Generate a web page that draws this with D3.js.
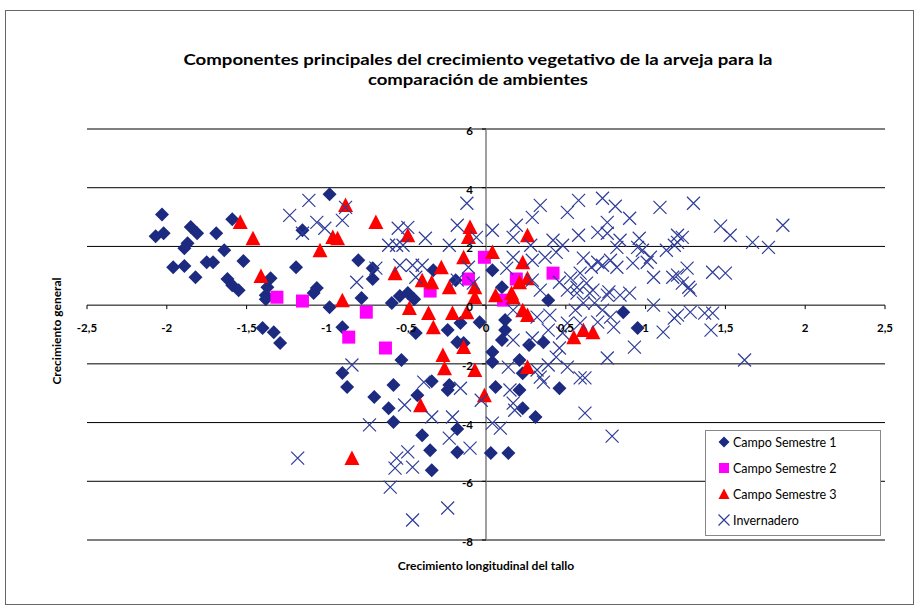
<!DOCTYPE html>
<html>
<head>
<meta charset="utf-8">
<script src="https://cdn.jsdelivr.net/npm/d3@7"></script>
<style>
  body { margin: 0; background: #fff; }
  svg { display: block; font-family: Lato, "Open Sans", sans-serif; }
</style>
</head>
<body>
<svg id="chart" width="920" height="609"></svg>
<script>
// ---- Data: principal component scores (x = longitudinal stem growth, y = general growth)
const campoSemestre1 = [
  [-2.03,3.09],[-2.07,2.35],[-2.02,2.45],[-1.85,2.66],[-1.81,2.45],[-1.87,2.11],[-1.89,1.94],
  [-1.69,2.45],[-1.59,2.93],[-1.64,1.87],[-1.96,1.29],[-1.89,1.33],[-1.82,0.95],[-1.75,1.46],
  [-1.71,1.46],[-1.52,1.50],[-1.62,0.89],[-1.59,0.68],[-1.55,0.51],[-1.35,0.92],[-1.37,0.61],
  [-1.38,0.34],[-1.19,1.29],[-1.15,2.55],[-1.38,0.20],[-1.40,-0.78],[-1.33,-0.92],[-1.29,-1.29],
  [-0.98,3.78],[-0.80,1.53],[-0.71,1.26],[-0.71,0.89],[-1.06,0.58],[-1.08,0.41],[-0.59,0.07],
  [-0.54,0.31],[-0.49,0.41],[-0.45,0.20],[-0.33,1.19],[-0.19,0.85],[-0.78,0.24],[-0.98,-0.07],
  [-0.90,-0.75],[-0.44,-0.95],[-0.24,-0.85],[-0.16,-0.61],[-0.04,-0.58],[-0.18,-1.26],[-0.14,-1.29],
  [-0.53,-1.87],[-0.90,-2.31],[-0.87,-2.79],[-0.58,-2.72],[-0.34,-2.59],[-0.23,-2.72],[-0.70,-3.13],
  [-0.43,-3.07],[0.39,0.17],[0.12,-0.51],[0.12,-0.85],[0.10,-1.19],[0.04,-1.60],[0.04,-1.94],
  [0.27,-1.36],[0.36,-1.26],[0.21,-1.87],[0.23,-2.32],[0.86,-0.24],[0.95,-0.78],[0.06,-2.79],
  [0.21,-2.89],[0.46,-2.83],[-0.61,-3.51],[-0.58,-3.98],[-0.24,-2.89],[-0.40,-4.43],[-0.35,-4.94],
  [-0.34,-5.62],[-0.18,-5.01],[-0.18,-4.22],[0.03,-5.04],[0.14,-5.04],[0.23,-3.51],[0.31,-3.81],
  [0.04,1.19],[0.10,0.61]
];

const campoSemestre2 = [
  [-1.31,0.27],[-1.15,0.14],[-0.75,-0.24],[-0.86,-1.09],[-0.63,-1.46],[-0.35,0.48],
  [-0.11,0.89],[-0.01,1.63],[0.19,0.89],[0.42,1.09],[0.11,0.17]
];

const campoSemestre3 = [
  [-1.54,2.83],[-1.46,2.28],[-1.41,0.99],[-0.88,3.41],[-0.69,2.83],[-0.49,2.38],[-0.96,2.32],
  [-0.93,2.28],[-1.04,1.87],[-0.57,1.09],[-0.28,1.29],[-0.40,0.85],[-0.34,0.78],[-0.23,0.61],
  [-0.10,2.66],[-0.11,2.32],[-0.14,1.63],[-0.07,0.61],[-0.07,0.27],[-0.90,0.17],[0.26,2.38],
  [0.04,1.81],[0.23,1.46],[0.26,0.92],[0.21,0.78],[0.16,0.41],[0.06,0.34],[-0.48,-0.10],
  [-0.36,-0.27],[-0.21,-0.27],[-0.12,-0.24],[-0.33,-0.75],[-0.14,-1.43],[-0.27,-1.70],
  [-0.26,-2.15],[-0.07,-2.21],[-0.01,-3.07],[0.17,0.27],[0.23,-0.17],[0.26,-0.34],[0.55,-1.09],
  [0.61,-0.85],[0.67,-0.92],[0.26,-2.11],[-0.41,-3.41],[-0.84,-5.21]
];

const invernadero = [
  [-1.23,3.06],[-1.11,3.57],[-1.15,2.45],[-0.88,3.33],[-0.90,2.89],[-1.06,2.82],[-1.01,2.62],
  [-0.55,2.62],[-0.49,2.65],[-0.38,2.28],[-0.61,2.04],[-0.56,2.04],[-0.52,2.04],[-0.23,2.04],
  [-0.12,3.47],[-0.18,2.72],[-0.06,2.31],[-0.54,1.36],[-0.46,1.36],[-0.40,1.36],[-0.44,0.95],
  [-0.81,0.78],[-0.18,0.85],[-0.08,0.75],[-0.11,1.29],[-0.69,1.26],[0.04,2.55],[0.17,2.31],
  [0.19,2.72],[0.29,2.99],[0.34,3.40],[0.51,3.16],[0.58,3.57],[0.73,3.64],[0.81,3.37],
  [0.76,2.82],[0.90,2.96],[1.09,3.33],[0.58,2.38],[0.70,2.48],[0.76,2.45],[0.42,2.21],
  [0.48,2.04],[0.28,2.04],[0.84,2.21],[0.82,1.97],[0.96,2.28],[0.98,1.87],[0.95,1.97],
  [1.13,1.87],[1.20,2.38],[0.37,1.63],[0.44,1.80],[0.61,1.60],[0.70,1.46],[0.66,1.29],
  [0.73,1.36],[0.78,1.53],[0.82,1.29],[0.92,1.43],[1.03,1.63],[1.01,1.46],[1.05,0.95],
  [1.17,0.95],[0.59,1.09],[0.53,0.92],[0.46,0.78],[0.57,0.61],[0.51,0.51],[0.63,0.75],
  [0.67,0.51],[0.76,0.34],[0.84,0.34],[0.34,0.51],[0.29,0.85],[0.29,1.53],[0.13,1.26],
  [0.17,1.63],[1.30,3.47],[1.47,2.69],[1.53,2.38],[1.86,2.72],[1.67,2.14],[1.77,1.97],
  [1.23,2.31],[1.20,2.14],[1.18,2.04],[1.26,1.26],[1.20,1.02],[1.23,0.75],[1.27,0.61],
  [1.42,1.12],[1.50,1.09],[1.62,-1.87],[1.18,-0.44],[1.28,-0.24],[1.37,-0.27],[1.42,-0.27],
  [1.41,-0.85],[1.28,0.51],[0.17,-0.17],[0.32,-0.41],[0.40,-0.34],[0.39,-0.85],[0.29,-1.12],
  [0.17,-1.19],[0.48,-0.95],[0.51,-0.61],[0.56,-0.17],[0.61,0.07],[0.68,0.07],[0.73,-0.17],
  [0.78,-0.41],[0.80,-0.75],[0.70,-0.58],[0.59,-0.61],[0.65,0.41],[0.57,0.41],[0.77,0.45],
  [0.90,0.41],[1.05,0.00],[1.11,-0.92],[1.20,-0.34],[0.93,-1.43],[0.76,-1.80],[0.46,-1.46],
  [0.44,-1.77],[0.39,-2.04],[0.32,-2.21],[0.34,-2.45],[0.51,-2.11],[0.59,-2.48],[0.62,-2.48],
  [0.36,-2.62],[0.14,-2.11],[0.15,-2.89],[-0.73,-4.08],[-0.51,-3.40],[-0.34,-3.81],[-0.21,-3.81],
  [-0.23,-4.53],[-0.10,-4.87],[-0.49,-5.00],[-0.56,-5.21],[-0.57,-5.55],[-0.46,-5.52],[-1.18,-5.21],
  [-0.60,-6.20],[-0.46,-7.32],[-0.24,-6.91],[-0.03,-3.24],[0.17,-3.34],[0.18,-3.58],[0.04,-4.02],
  [0.09,-4.19],[0.62,-3.68],[0.79,-4.46],[-0.84,-2.04],[-0.16,-2.83],[-0.39,-2.62]
];

const xTickValues = [-2.5,-2,-1.5,-1,-0.5,0,0.5,1,1.5,2,2.5];
const xTickLabels = ["-2,5","-2","-1,5","-1","-0,5","0","0,5","1","1,5","2","2,5"];
const yTickValues = [-8,-6,-4,-2,0,2,4,6];
const yTickLabels = ["-8","-6","-4","-2","0","2","4","6"];

const titleLines = ["Componentes principales del crecimiento vegetativo de la arveja para la",
                    "comparación de ambientes"];
const xAxisTitle = "Crecimiento longitudinal del tallo";
const yAxisTitle = "Crecimiento general";
const seriesNames = ["Campo Semestre 1","Campo Semestre 2","Campo Semestre 3","Invernadero"];

// ---- Drawing
const svg = d3.select("#chart");
const x = d3.scaleLinear().domain([-2.5, 2.5]).range([87, 885]);
const y = d3.scaleLinear().domain([-8, 6]).range([540, 129]);

const colors = { s1: "#1c2a80", s2: "#ff00ff", s3: "#ff0000", inv: "#2f3d99" };

// chart frame
svg.append("rect").attr("x", 5.5).attr("y", 10.5).attr("width", 908).attr("height", 594)
  .attr("fill", "#fff").attr("stroke", "#666").attr("stroke-width", 1);

// title
const title = svg.append("text").attr("text-anchor", "middle")
  .attr("font-weight", "bold").attr("font-size", 15.5).attr("fill", "#000");
title.append("tspan").attr("x", 478).attr("y", 65).text(titleLines[0]).attr("textLength", 589).attr("lengthAdjust", "spacingAndGlyphs");
title.append("tspan").attr("x", 478).attr("y", 85).text(titleLines[1]).attr("textLength", 220).attr("lengthAdjust", "spacingAndGlyphs");

// horizontal gridlines
svg.append("g").selectAll("line").data(yTickValues).join("line")
  .attr("x1", x(-2.5)).attr("x2", x(2.5))
  .attr("y1", d => y(d)).attr("y2", d => y(d))
  .attr("stroke", "#000").attr("stroke-width", 1);

// vertical axis line at x = 0
svg.append("line").attr("x1", x(0)).attr("x2", x(0)).attr("y1", y(6)).attr("y2", y(-8))
  .attr("stroke", "#7f7f7f").attr("stroke-width", 1.5);

// tick marks
svg.append("g").selectAll("line").data(xTickValues).join("line")
  .attr("x1", d => x(d)).attr("x2", d => x(d))
  .attr("y1", y(0)).attr("y2", y(0) + 4).attr("stroke", "#000");
svg.append("g").selectAll("line").data(yTickValues).join("line")
  .attr("x1", x(0) - 4).attr("x2", x(0))
  .attr("y1", d => y(d)).attr("y2", d => y(d)).attr("stroke", "#000");

// markers
const diamondPath = "M0,-7L7,0L0,7L-7,0Z";
const squarePath = "M-6.5,-6.5H6.5V6.5H-6.5Z";
const trianglePath = "M0,-7.5L7.5,7L-7.5,7Z";
const crossPath = "M-6.5,-6.5L6.5,6.5M-6.5,6.5L6.5,-6.5";

function plotSeries(data, path, fill, stroke) {
  svg.append("g").selectAll("path").data(data).join("path")
    .attr("transform", d => `translate(${x(d[0])},${y(d[1])})`)
    .attr("d", path)
    .attr("fill", fill)
    .attr("stroke", stroke || "none")
    .attr("stroke-width", stroke ? 1.2 : 0);
}
plotSeries(campoSemestre1, diamondPath, colors.s1);
plotSeries(campoSemestre2, squarePath, colors.s2);
plotSeries(campoSemestre3, trianglePath, colors.s3);
plotSeries(invernadero, crossPath, "none", colors.inv);

// tick labels
svg.append("g").selectAll("text").data(xTickValues).join("text")
  .attr("x", d => x(d)).attr("y", y(0) + 27)
  .attr("text-anchor", "middle").attr("font-weight", "bold").attr("font-size", 11.5)
  .text((d, i) => xTickLabels[i]);
svg.append("g").selectAll("text").data(yTickValues).join("text")
  .attr("x", x(0) - 13).attr("y", d => y(d) + 6)
  .attr("text-anchor", "end").attr("font-weight", "bold").attr("font-size", 11.5)
  .text((d, i) => yTickLabels[i]);

// axis titles
svg.append("text").attr("x", 486).attr("y", 570).attr("text-anchor", "middle")
  .attr("font-weight", "bold").attr("font-size", 12).text(xAxisTitle);
svg.append("text").attr("transform", "translate(61,331) rotate(-90)").attr("text-anchor", "middle")
  .attr("font-weight", "bold").attr("font-size", 12).text(yAxisTitle);

// legend
const legend = svg.append("g");
legend.append("rect").attr("x", 705.5).attr("y", 430.5).attr("width", 175).attr("height", 105)
  .attr("fill", "#fff").attr("stroke", "#888");
const legendPaths = ["M0,-5.5L5.5,0L0,5.5L-5.5,0Z", "M-5,-5H5V5H-5Z", "M0,-5.5L5.5,5L-5.5,5Z", "M-5.5,-5.5L5.5,5.5M-5.5,5.5L5.5,-5.5"];
const legendFills = [colors.s1, colors.s2, colors.s3, "none"];
const legendStrokes = [null, null, null, colors.inv];
seriesNames.forEach((name, i) => {
  const cy = 442 + i * 26;
  legend.append("path").attr("transform", `translate(724,${cy})`).attr("d", legendPaths[i])
    .attr("fill", legendFills[i]).attr("stroke", legendStrokes[i] || "none").attr("stroke-width", 1.2);
  legend.append("text").attr("x", 733).attr("y", cy + 4.5).attr("font-size", 12.5).text(name);
});
</script>
</body>
</html>
